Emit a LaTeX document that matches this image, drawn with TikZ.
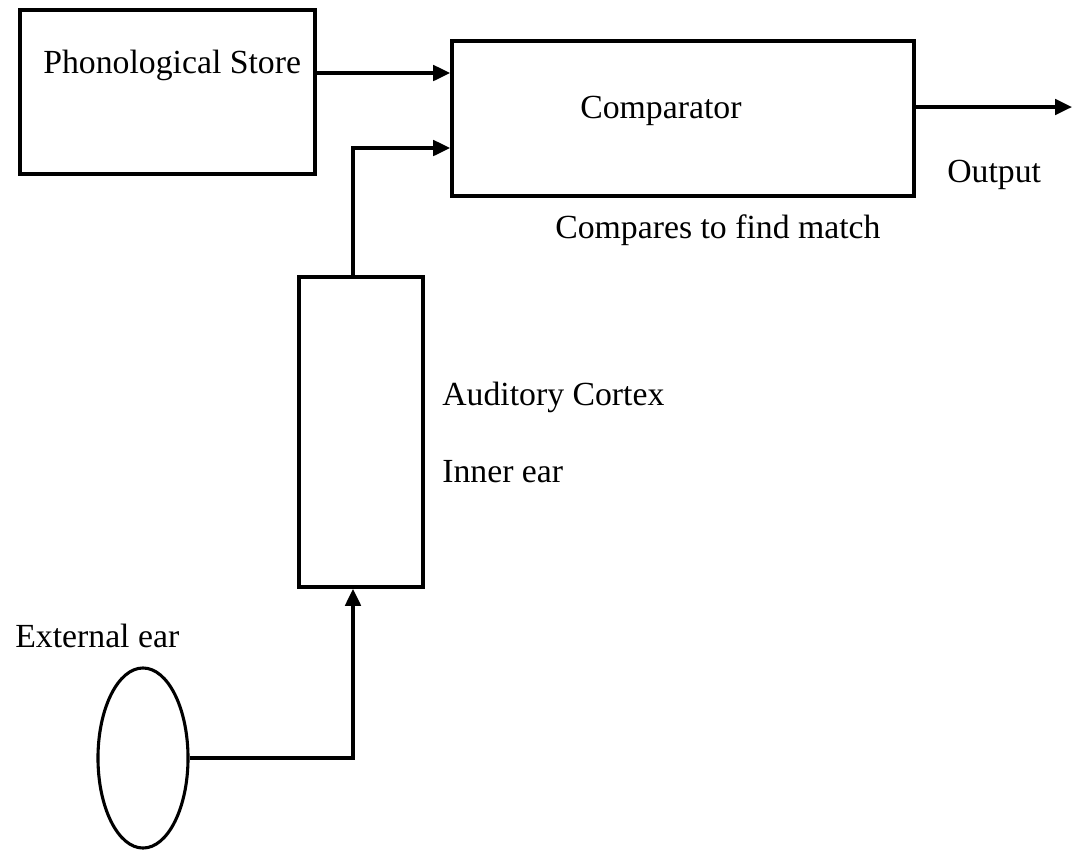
\documentclass[tikz,border=0pt]{standalone}
\usepackage{fontspec}
\setmainfont{Liberation Serif}
\usetikzlibrary{arrows.meta}
\usetikzlibrary{shapes.geometric}

\begin{document}
\begin{tikzpicture}[
    x=0.025cm, y=-0.025cm,
    box/.style={draw, line width=2.6pt, inner sep=0pt},
    lbl/.style={anchor=base west, inner sep=0pt},
    conn/.style={->, line width=2.4pt},
    >={Triangle[length=12pt, width=11pt]},
    font=\fontsize{24}{28}\selectfont
]
    \useasboundingbox (0,0) rectangle (1072,850);

    % boxes
    \node[box, minimum width=7.375cm, minimum height=4.1cm] (ps) at (167.5,92) {};   % phonological store
    \node[box, minimum width=11.55cm, minimum height=3.875cm] (cmp) at (683,118.5) {}; % comparator
    \node[box, minimum width=3.1cm, minimum height=7.75cm] (ac) at (361,432) {};     % auditory cortex / inner ear
    \node[draw, line width=2.2pt, ellipse, minimum width=2.25cm, minimum height=4.5cm, inner sep=0pt] (ee) at (143,758) {}; % external ear

    % labels
    \node[lbl] (pstxt) at (43,73) {Phonological Store};
    \node[lbl] (cmptxt) at (580,118) {Comparator};
    \node[lbl] (match) at (555,238) {Compares to find match};
    \node[lbl] (outtxt) at (947,182) {Output};
    \node[lbl] (actxt) at (442,405) {Auditory Cortex};
    \node[lbl] (ietxt) at (442,482) {Inner ear};
    \node[lbl] (eetxt) at (15,647) {External ear};

    % bend points
    \coordinate (psout) at (315,73);
    \coordinate (up) at (353,148);
    \coordinate (join) at (353,758);
    \coordinate (out) at (1072,107);

    % connectors
    \draw[conn] (psout) -- (psout -| cmp.west);
    \draw[conn] (ac.north -| up) -- (up) -- (up -| cmp.west);
    \draw[conn] (ee.east) -- (join) -- (join |- ac.south);
    \draw[conn] (cmp.east |- out) -- (out);

\end{tikzpicture}
\end{document}
